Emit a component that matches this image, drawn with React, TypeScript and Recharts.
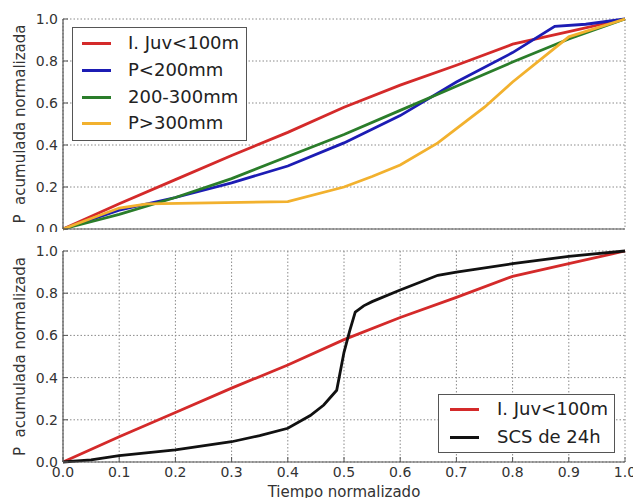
import React from 'react';
import { LineChart, Line, XAxis, YAxis, CartesianGrid } from 'recharts';

// Tiempo normalizado (t) vs P acumulada normalizada (p)
const juvT = [0, 0.1, 0.2, 0.3, 0.4, 0.5, 0.6, 0.7, 0.8, 0.9, 1.0];
const juvP = [0, 0.12, 0.235, 0.35, 0.46, 0.58, 0.685, 0.78, 0.88, 0.94, 1.0];

const p200T = [0, 0.1, 0.2, 0.3, 0.4, 0.5, 0.6, 0.7, 0.8, 0.875, 0.93, 1.0];
const p200P = [0, 0.09, 0.15, 0.22, 0.3, 0.41, 0.54, 0.7, 0.84, 0.965, 0.975, 1.0];

const p200300T = [0, 0.1, 0.2, 0.3, 0.4, 0.5, 0.6, 0.7, 0.8, 0.9, 1.0];
const p200300P = [0, 0.07, 0.15, 0.24, 0.345, 0.45, 0.565, 0.68, 0.795, 0.905, 1.0];

const p300T = [0, 0.1, 0.15, 0.4, 0.5, 0.55, 0.6, 0.667, 0.75, 0.8, 0.9, 1.0];
const p300P = [0, 0.1, 0.12, 0.13, 0.2, 0.25, 0.305, 0.41, 0.58, 0.7, 0.915, 1.0];

const scsT = [0, 0.05, 0.1, 0.2, 0.3, 0.35, 0.4, 0.44, 0.464, 0.487, 0.5, 0.51, 0.52, 0.535, 0.55, 0.6, 0.667, 0.7, 0.8, 0.9, 1.0];
const scsP = [0, 0.01, 0.03, 0.057, 0.096, 0.125, 0.16, 0.22, 0.27, 0.34, 0.52, 0.62, 0.71, 0.74, 0.76, 0.815, 0.885, 0.9, 0.94, 0.975, 1.0];

const xTicks = [0, 0.1, 0.2, 0.3, 0.4, 0.5, 0.6, 0.7, 0.8, 0.9, 1.0];
const yTicks = [0, 0.2, 0.4, 0.6, 0.8, 1.0];

const RED = '#d42a2a';
const BLUE = '#1c1cb4';
const GREEN = '#2a7d2a';
const ORANGE = '#f2b12e';
const BLACK = '#111111';

const FONT = '"DejaVu Sans", sans-serif';
const TEXT = '#333';
const FRAME = '#555';

const toRows = (t: number[], p: number[]) => t.map((v, i) => ({ t: v, p: p[i] }));

const topSeries = [
    { name: 'I. Juv<100m', color: RED, data: toRows(juvT, juvP) },
    { name: 'P<200mm', color: BLUE, data: toRows(p200T, p200P) },
    { name: '200-300mm', color: GREEN, data: toRows(p200300T, p200300P) },
    { name: 'P>300mm', color: ORANGE, data: toRows(p300T, p300P) },
];

const bottomSeries = [
    { name: 'I. Juv<100m', color: RED, data: toRows(juvT, juvP) },
    { name: 'SCS de 24h', color: BLACK, data: toRows(scsT, scsP) },
];

const fmt = (v: number) => v.toFixed(1);
const tickStyle = { fontSize: 14, fill: TEXT, fontFamily: FONT };

function YLabel({ viewBox }: any) {
    const cx = 20;
    const cy = viewBox.y + viewBox.height / 2;
    return (
        <text x={cx} y={cy} transform={`rotate(-90 ${cx} ${cy})`} textAnchor="middle" dominantBaseline="central"
            style={{ fontSize: 15, fill: TEXT, fontFamily: FONT, whiteSpace: 'pre' }}>
            {'P  acumulada normalizada'}
        </text>
    );
}

function XLabel({ viewBox }: any) {
    const cx = viewBox.x + viewBox.width / 2;
    return (
        <text x={cx} y={265} textAnchor="middle" style={{ fontSize: 15, fill: TEXT, fontFamily: FONT }}>
            Tiempo normalizado
        </text>
    );
}

function Panel({ series, showX, height, bottomH }: { series: typeof topSeries; showX: boolean; height: number; bottomH: number }) {
    return (
        <LineChart width={633} height={height} margin={{ top: 19, right: 8, left: 0, bottom: 0 }}>
            <CartesianGrid stroke="#8a8a8a" strokeDasharray="1.5 2" strokeWidth={1} />
            <XAxis dataKey="t" type="number" domain={[0, 1]} ticks={xTicks} tickFormatter={fmt} height={bottomH}
                tick={showX ? tickStyle : false} tickSize={-5} tickMargin={10} interval={0}
                axisLine={{ stroke: FRAME, strokeWidth: 1.2 }} tickLine={{ stroke: FRAME }}
                label={showX ? <XLabel /> : undefined} />
            <XAxis xAxisId="top" orientation="top" type="number" domain={[0, 1]} ticks={xTicks} height={0}
                tick={false} tickSize={-5} axisLine={{ stroke: FRAME, strokeWidth: 1.2 }} tickLine={{ stroke: FRAME }} />
            <YAxis type="number" domain={[0, 1]} ticks={yTicks} tickFormatter={fmt} width={63} interval={0}
                tick={tickStyle} tickSize={-5} tickMargin={10}
                axisLine={{ stroke: FRAME, strokeWidth: 1.2 }} tickLine={{ stroke: FRAME }} label={<YLabel />} />
            <YAxis yAxisId="right" orientation="right" type="number" domain={[0, 1]} ticks={yTicks} width={0}
                tick={false} tickSize={-5} axisLine={{ stroke: FRAME, strokeWidth: 1.2 }} tickLine={{ stroke: FRAME }} />
            {series.map(s => (
                <Line key={s.name} data={s.data} dataKey="p" name={s.name} type="linear" stroke={s.color}
                    strokeWidth={2.8} dot={false} activeDot={false} isAnimationActive={false} />
            ))}
        </LineChart>
    );
}

function LegendBox({ series, left, top, width, height, rows, sampleX, textX }: any) {
    return (
        <div style={{
            position: 'absolute', left, top, width, height, boxSizing: 'border-box', background: '#fff',
            border: `1px solid ${FRAME}`, fontFamily: FONT, fontSize: 18, color: '#222',
        }}>
            {series.map((s: any, i: number) => (
                <div key={s.name} style={{ position: 'absolute', left: 0, top: rows[i] - 13, height: 26, width: '100%' }}>
                    <div style={{ position: 'absolute', left: sampleX, top: 11.5, width: 29, height: 3, background: s.color }} />
                    <div style={{ position: 'absolute', left: textX, top: 0, lineHeight: '26px', whiteSpace: 'nowrap' }}>{s.name}</div>
                </div>
            ))}
        </div>
    );
}

export default function App() {
    return (
        <div style={{ position: 'absolute', left: 0, top: 0, width: 633, height: 498, background: '#fff', overflow: 'hidden' }}>
            <div style={{ position: 'absolute', left: 0, top: 0 }}>
                <Panel series={topSeries} showX={false} height={232} bottomH={3} />
            </div>
            <div style={{ position: 'absolute', left: 0, top: 232 }}>
                <Panel series={bottomSeries} showX={true} height={266} bottomH={36} />
            </div>
            <LegendBox series={topSeries} left={72} top={27} width={175} height={114}
                rows={[15, 42, 69, 95]} sampleX={9} textX={55} />
            <LegendBox series={bottomSeries} left={438} top={394} width={177} height={59}
                rows={[14, 42]} sampleX={11} textX={58} />
        </div>
    );
}
